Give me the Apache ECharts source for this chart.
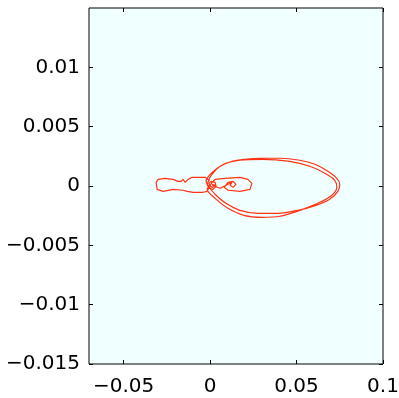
<!DOCTYPE html>
<html>
<head>
<meta charset="utf-8">
<script src="https://cdn.jsdelivr.net/npm/echarts@6/dist/echarts.min.js"></script>
<style>
  html, body { margin: 0; padding: 0; background: #fff; }
  #chart { width: 399px; height: 398px; }
</style>
</head>
<body>
<div id="chart"></div>
<script>
// trajectory pieces
const clusterX = [0.0012, 0.0023, 0.0029, 0.0017, 0, -0.0006, 0.0006, 0.0029, 0.0035, 0.0017, -0.0006, -0.0017, -0.0006];
const clusterY = [0.00014, 0.00022, 0.00006, -0.00011, -0.00003, 0.00022, 0.00039, 0.00031, -0.00003, -0.00028, -0.00019, 0.00014, 0.00048];

const leftX = [-0.0029, -0.0058, -0.0104, -0.0127, -0.0144, -0.0156, -0.0167, -0.0185, -0.0213, -0.026, -0.03, -0.0312,
  -0.0306, -0.0271, -0.0213, -0.0156, -0.0133, -0.0098, -0.004, -0.0017, -0.0006];
const leftY = [0.00073, 0.00073, 0.00073, 0.00056, 0.00031, 0.00056, 0.00039, 0.00039, 0.00056, 0.00065, 0.00056, 0.00031,
  -0.00028, -0.00045, -0.00028, -0.00036, -0.00045, -0.00053, -0.00053, -0.00045, -0.00011];

const smallX = [0.0012, 0.0029, 0.0087, 0.0173, 0.0219, 0.0242, 0.0231, 0.0173, 0.0104, 0.0081, 0.0104, 0.0133,
  0.015, 0.0133, 0.0115, 0.0127, 0.0058, 0.0012];
const smallY = [0.00031, 0.00056, 0.00065, 0.00073, 0.00056, 0.00022, -0.00028, -0.00045, -0.00036, -0.00011, 0.00031, 0.00039,
  0.00014, -0.00011, 0.00006, 0.00031, -0.00019, 0.00006];

const loopAX = [-0.0012, 0.0006, 0.0058, 0.0127, 0.0202, 0.0289, 0.0404, 0.0519, 0.0606, 0.0681, 0.0733, 0.075,
  0.0739, 0.0692, 0.0612, 0.0508, 0.0392, 0.0277, 0.0173, 0.0092, 0.0035, 0];
const loopAY = [0.00031, 0.0009, 0.00166, 0.00208, 0.00225, 0.00234, 0.00234, 0.00217, 0.00183, 0.00124, 0.00065, 0.00014,
  -0.00045, -0.00112, -0.00163, -0.00205, -0.0023, -0.0023, -0.00205, -0.00146, -0.00078, -0.00019];

const loopBX = [-0.0023, 0.0012, 0.0081, 0.0173, 0.03, 0.0462, 0.0577, 0.0664, 0.0721, 0.0733, 0.0704, 0.0623,
  0.0519, 0.0404, 0.03, 0.0196, 0.0104, 0.0029, -0.0017, 0];
const loopBY = [0.00039, 0.00115, 0.00183, 0.00217, 0.00225, 0.00208, 0.00166, 0.00107, 0.00048, -0.00011, -0.00078, -0.00146,
  -0.00205, -0.00255, -0.00264, -0.00247, -0.00188, -0.00104, -0.00028, 0.00006];

const xTicks = [-0.05, 0, 0.05, 0.1];
const yTicks = [-0.015, -0.01, -0.005, 0, 0.005, 0.01];

const zip = (xs, ys) => xs.map((x, i) => [x, ys[i]]);
const fmt = (v) => String(v).replace('-', '\u2212');

const chart = echarts.init(document.getElementById('chart'));

const axisCommon = {
  type: 'value',
  axisLine: { show: false, onZero: false },
  splitLine: { show: false },
  axisTick: { inside: true, length: 4, lineStyle: { color: '#000', width: 1 } },
  axisLabel: { color: '#000', fontSize: 20, fontFamily: 'DejaVu Sans, sans-serif', formatter: fmt }
};

chart.setOption({
  animation: false,
  grid: {
    left: 89, top: 8, right: 16, bottom: 34,
    outerBoundsMode: 'none',
    show: true, backgroundColor: '#f0ffff', borderColor: '#000', borderWidth: 1
  },
  xAxis: [
    {
      ...axisCommon, min: -0.07, max: 0.1, position: 'bottom',
      axisTick: { ...axisCommon.axisTick, customValues: xTicks },
      axisLabel: { ...axisCommon.axisLabel, margin: 13, customValues: xTicks }
    },
    {
      ...axisCommon, min: -0.07, max: 0.1, position: 'top',
      axisTick: { ...axisCommon.axisTick, customValues: xTicks },
      axisLabel: { show: false }
    }
  ],
  yAxis: [
    {
      ...axisCommon, min: -0.015, max: 0.015, position: 'left',
      axisTick: { ...axisCommon.axisTick, customValues: yTicks },
      axisLabel: { ...axisCommon.axisLabel, margin: 9, customValues: yTicks }
    },
    {
      ...axisCommon, min: -0.015, max: 0.015, position: 'right',
      axisTick: { ...axisCommon.axisTick, customValues: yTicks },
      axisLabel: { show: false }
    }
  ],
  series: [
    {
      type: 'line',
      data: zip(clusterX.concat(leftX, smallX), clusterY.concat(leftY, smallY)),
      showSymbol: false,
      lineStyle: { color: '#ff3312', width: 1.2 }
    },
    {
      type: 'line',
      data: zip(loopAX.concat(loopBX), loopAY.concat(loopBY)),
      smooth: 0.3,
      showSymbol: false,
      lineStyle: { color: '#ff3312', width: 1.2 }
    }
  ]
});
</script>
</body>
</html>
